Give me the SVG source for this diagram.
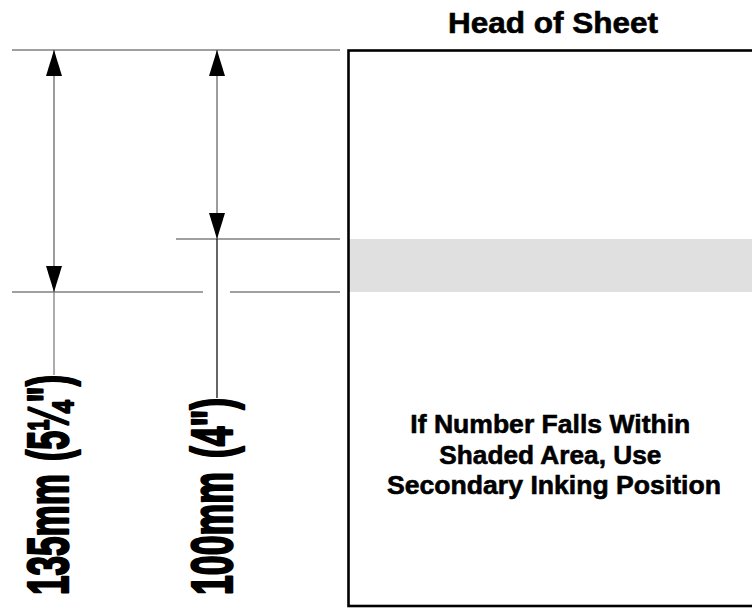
<svg xmlns="http://www.w3.org/2000/svg" width="752" height="616" viewBox="0 0 752 616">
  <style>
    .ext { stroke: #808080; stroke-width: 1.3; fill: none; }
    .dim { stroke: #5a5a5a; stroke-width: 1.2; fill: none; }
    .lead { stroke: #000000; stroke-width: 1.2; fill: none; }
    .lbl { font-family: "Liberation Sans", Arial, sans-serif; font-weight: bold; fill: #000; stroke: #000; stroke-width: 0.6; }
    .big { font-family: "Liberation Sans", Arial, sans-serif; font-weight: bold; font-size: 58px; fill: #000; stroke: #000; stroke-width: 2.4; stroke-linejoin: round; }
  </style>
  <defs>
    <marker id="arr" viewBox="0 0 26 16" refX="26" refY="8" markerWidth="26" markerHeight="16" markerUnits="userSpaceOnUse" orient="auto-start-reverse">
      <path d="M0,0 L26,8 L0,16 Z" fill="#000"/>
    </marker>
  </defs>
  <rect width="752" height="616" fill="#ffffff"/>

  <g id="sheet">
    <rect x="349" y="239" width="410" height="53" fill="#e0e0e0"/>
    <rect x="348.5" y="50.5" width="420" height="555.5" fill="none" stroke="#000" stroke-width="2.6"/>
    <text class="lbl" font-size="26.5" text-anchor="middle">
      <tspan x="554" y="433" textLength="280" lengthAdjust="spacingAndGlyphs">If Number Falls Within</tspan>
      <tspan x="554" y="464" textLength="222" lengthAdjust="spacingAndGlyphs">Shaded Area, Use</tspan>
      <tspan x="554" y="494" textLength="334" lengthAdjust="spacingAndGlyphs">Secondary Inking Position</tspan>
    </text>
  </g>

  <g id="head-label">
    <text class="lbl" font-size="29" x="553" y="33" text-anchor="middle" textLength="210" lengthAdjust="spacingAndGlyphs">Head of Sheet</text>
  </g>

  <g id="connectors">
    <line class="ext" x1="12" y1="50" x2="340" y2="50"/>
    <line class="ext" x1="176" y1="239" x2="340" y2="239"/>
    <line class="ext" x1="12" y1="292" x2="203" y2="292"/>
    <line class="ext" x1="230" y1="292" x2="340" y2="292"/>
    <line class="dim" x1="54" y1="50" x2="54" y2="292" marker-start="url(#arr)" marker-end="url(#arr)"/>
    <line class="ext" x1="54" y1="292" x2="54" y2="375"/>
    <line class="dim" x1="217" y1="50" x2="217" y2="239" marker-start="url(#arr)" marker-end="url(#arr)"/>
    <line class="lead" x1="217" y1="239" x2="217" y2="398"/>
  </g>

  <g id="dim-135">
    <text class="big" transform="translate(68,595) rotate(-90)"><tspan x="0" y="0" textLength="121" lengthAdjust="spacingAndGlyphs">135mm</tspan> <tspan x="134" y="0" textLength="86" lengthAdjust="spacingAndGlyphs">(5¼")</tspan></text>
  </g>
  <g id="dim-100">
    <text class="big" transform="translate(232,595) rotate(-90)"><tspan x="0" y="0" textLength="123" lengthAdjust="spacingAndGlyphs">100mm</tspan> <tspan x="137" y="0" textLength="60" lengthAdjust="spacingAndGlyphs">(4")</tspan></text>
  </g>
</svg>
